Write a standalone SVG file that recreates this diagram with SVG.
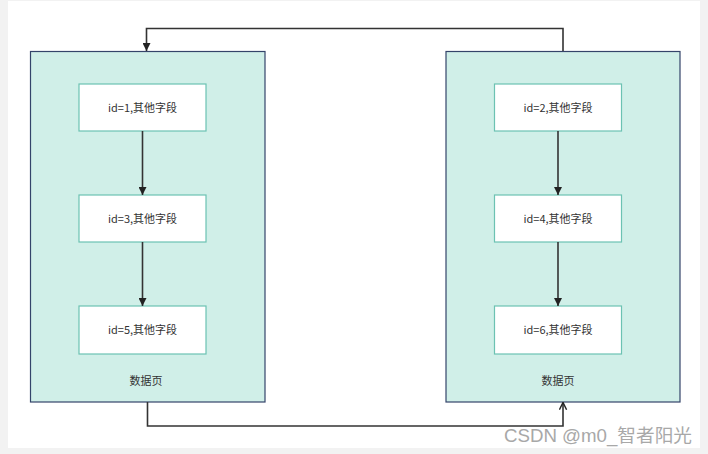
<svg xmlns="http://www.w3.org/2000/svg" width="708" height="454" viewBox="0 0 708 454">
<style>
.page{fill:#d0efe8;stroke:#34446a;stroke-width:1.2}
.rec{fill:#ffffff;stroke:#6cc2b2;stroke-width:1.2}
.t{font-family:"Noto Sans CJK SC","Liberation Sans",sans-serif;font-size:11px;fill:#333;text-anchor:middle}
.c{fill:none;stroke:#333;stroke-width:1.6}
.wm{font-family:"Liberation Sans","Noto Sans CJK SC",sans-serif;font-size:18px;fill:#a8a8a8}
</style>
<defs>
<marker id="fa" viewBox="0 0 10 10" refX="10" refY="5" markerWidth="8" markerHeight="8" markerUnits="userSpaceOnUse" orient="auto"><path d="M0,0 L10,5 L0,10 z" fill="#222"/></marker>
<marker id="oa" viewBox="0 0 10 10" refX="9" refY="5" markerWidth="9" markerHeight="9" markerUnits="userSpaceOnUse" orient="auto"><path d="M1,1 L9,5 L1,9" fill="none" stroke="#222" stroke-width="1.6"/></marker>
</defs>
<rect width="708" height="454" fill="#f2f2f2"/>
<rect x="8" y="1" width="692" height="447" fill="#ffffff"/>
<g id="pageL">
<rect class="page" x="30.5" y="51.5" width="234.5" height="350.5"/>
<text class="t" x="146" y="385">数据页</text>
</g>
<g id="pageR">
<rect class="page" x="446" y="51.5" width="234" height="350.5"/>
<text class="t" x="558" y="385">数据页</text>
</g>
<g id="r1"><rect class="rec" x="79" y="84" width="127" height="47"/><text class="t" x="142.5" y="111.5">id=1,其他字段</text></g>
<g id="r3"><rect class="rec" x="79" y="195" width="127" height="47"/><text class="t" x="142.5" y="222.5">id=3,其他字段</text></g>
<g id="r5"><rect class="rec" x="79" y="306" width="127" height="48"/><text class="t" x="142.5" y="334">id=5,其他字段</text></g>
<g id="r2"><rect class="rec" x="494.5" y="84" width="127" height="47"/><text class="t" x="558" y="111.5">id=2,其他字段</text></g>
<g id="r4"><rect class="rec" x="494.5" y="195" width="127" height="47"/><text class="t" x="558" y="222.5">id=4,其他字段</text></g>
<g id="r6"><rect class="rec" x="494.5" y="306" width="127" height="48"/><text class="t" x="558" y="334">id=6,其他字段</text></g>
<g id="connectors">
<path class="c" d="M142.5,131 V195" marker-end="url(#fa)"/>
<path class="c" d="M142.5,242 V306" marker-end="url(#fa)"/>
<path class="c" d="M558,131 V195" marker-end="url(#fa)"/>
<path class="c" d="M558,242 V306" marker-end="url(#fa)"/>
<path class="c" d="M563,51 V28.5 H146.5 V51" marker-end="url(#fa)"/>
<path class="c" d="M147.5,402 V426 H563 V402.5" marker-end="url(#oa)"/>
</g>
<text class="wm" x="504" y="442" textLength="188" lengthAdjust="spacingAndGlyphs">CSDN @m0_智者阳光</text>
</svg>
